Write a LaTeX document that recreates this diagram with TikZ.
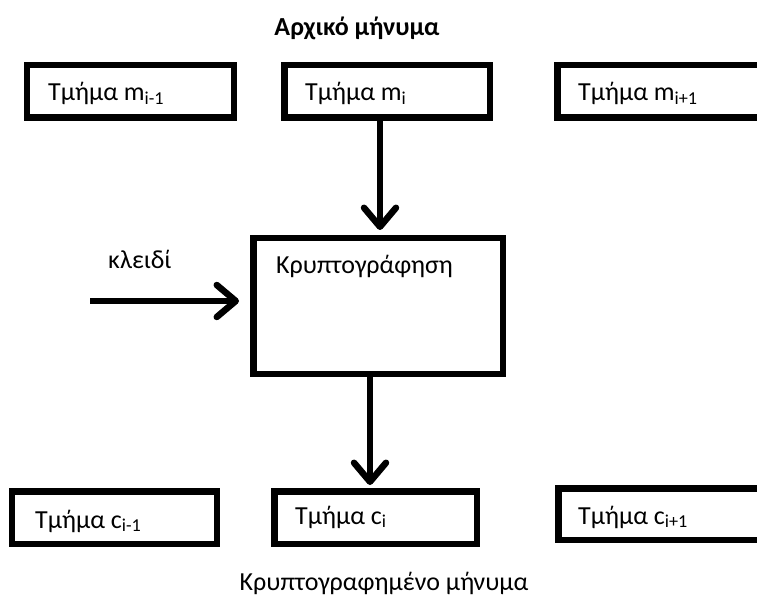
\documentclass[tikz,border=0pt]{standalone}
\usepackage{fontspec}
\setmainfont{Carlito}
\usetikzlibrary{arrows.meta}

\tikzset{
  blockbox/.style={draw=black, line width=6.5bp, fill=white, inner sep=0pt},
  lbl/.style={inner sep=0pt, font=\fontsize{26bp}{30bp}\selectfont, anchor=base west},
  flow/.style={line width=6.5bp,
    -{Straight Barb[length=19bp, width=32bp, line cap=round, line join=round]}},
}

\begin{document}
\begin{tikzpicture}[x=1bp, y=-1bp]
  \clip (0,0) rectangle (757,609);
  \fill[white] (0,0) rectangle (757,609);

  % heading
  \node[inner sep=0pt, anchor=base, font=\fontsize{26bp}{30bp}\selectfont\bfseries]
    (title) at (357,36) {Αρχικό μήνυμα};

  % plaintext blocks
  \node[blockbox, minimum width=206.5bp, minimum height=52.5bp] (mprev) at (130.5,91.5) {};
  \node[blockbox, minimum width=205.5bp, minimum height=52.5bp] (mcur)  at (387,91.5) {};
  \node[blockbox, minimum width=240bp,   minimum height=52.5bp] (mnext) at (677.25,91.5) {};
  \node[lbl] (tmprev) at (48,101)  {Τμήμα m\textsubscript{i-1}};
  \node[lbl] (tmcur)  at (305,101) {Τμήμα m\textsubscript{i}};
  \node[lbl] (tmnext) at (578,101) {Τμήμα m\textsubscript{i+1}};

  % cipher block
  \node[blockbox, minimum width=249.5bp, minimum height=135.5bp] (enc) at (378,306) {};
  \node[lbl] (tenc) at (276,273) {Κρυπτογράφηση};

  % key input
  \node[lbl] (tkey) at (108,268) {κλειδί};
  \coordinate (keyin) at (90,301);

  % ciphertext blocks
  \node[blockbox, minimum width=204.5bp, minimum height=52.5bp] (cprev) at (114.5,517.5) {};
  \node[blockbox, minimum width=202.5bp, minimum height=52.5bp] (ccur)  at (375.5,517.5) {};
  \node[blockbox, minimum width=240bp,   minimum height=51.5bp] (cnext) at (678.25,514) {};
  \node[lbl] (tcprev) at (35,528)  {Τμήμα c\textsubscript{i-1}};
  \node[lbl] (tccur)  at (295,524) {Τμήμα c\textsubscript{i}};
  \node[lbl] (tcnext) at (578,524) {Τμήμα c\textsubscript{i+1}};

  % footer
  \node[inner sep=0pt, anchor=base, font=\fontsize{26bp}{30bp}\selectfont]
    (foot) at (384,590) {Κρυπτογραφημένο μήνυμα};

  % connectors
  \coordinate (xin) at (380,0);
  \coordinate (xout) at (370,0);
  \draw[flow, shorten >=5bp] (mcur.south -| xin) -- (enc.north -| xin);
  \draw[flow, shorten >=11bp] (keyin) -- (enc.west |- keyin);
  \draw[flow, shorten >=3bp] (enc.south -| xout) -- (ccur.north -| xout);
\end{tikzpicture}
\end{document}
